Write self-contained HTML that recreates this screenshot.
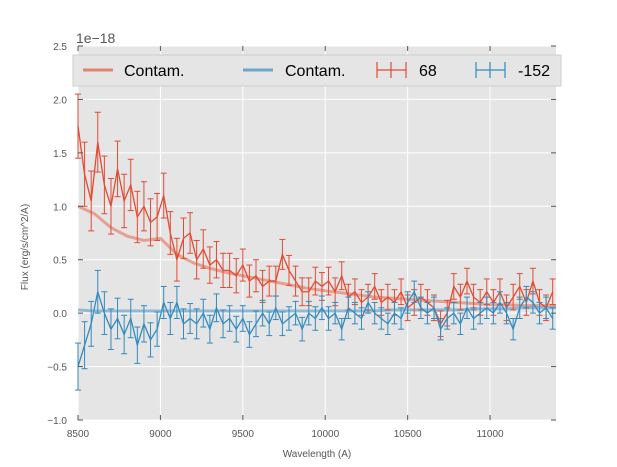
<!DOCTYPE html>
<html><head><meta charset="utf-8"><style>
body{margin:0;background:#fff;}
svg{display:block;font-family:"Liberation Sans",sans-serif;}
</style></head><body>
<svg width="617" height="467" id="chart">
<rect x="78" y="46" width="478" height="374" fill="#e5e5e5"/>
<g id="grid"></g>
<g id="series"></g>
<g id="axes"></g>
<text x="76" y="43" font-size="14" fill="#555">1e−18</text>
<text x="14" y="233" font-size="10" fill="#555" transform="rotate(-90 28 233)" text-anchor="middle">Flux (erg/s/cm^2/A)</text>
<text x="317" y="457" font-size="10" fill="#555" text-anchor="middle">Wavelength (A)</text>
<g>
<rect x="73" y="55" width="488" height="31" fill="#e5e5e5" stroke="#ccc" stroke-width="1" opacity="0.95"/>
<line x1="83" y1="70" x2="113" y2="70" stroke="#e5836d" stroke-width="3"/>
<text x="124" y="76" font-size="16" fill="#000">Contam.</text>
<line x1="243" y1="70" x2="273" y2="70" stroke="#6aa6d0" stroke-width="3"/>
<text x="285" y="76" font-size="16" fill="#000">Contam.</text>
<g stroke="#e24a33" stroke-width="1.2"><line x1="377" y1="70" x2="406" y2="70"/><line x1="377" y1="62" x2="377" y2="78"/><line x1="406" y1="62" x2="406" y2="78"/><line x1="391" y1="62" x2="391" y2="78"/></g>
<text x="419" y="76" font-size="16" fill="#000">68</text>
<g stroke="#348abd" stroke-width="1.2"><line x1="476" y1="70" x2="505" y2="70"/><line x1="476" y1="62" x2="476" y2="78"/><line x1="505" y1="62" x2="505" y2="78"/><line x1="490" y1="62" x2="490" y2="78"/></g>
<text x="518" y="76" font-size="16" fill="#000">-152</text>
</g>
</svg>
<script>
const wave0 = 8500, waveStep = 40;
const redFlux = [1.75,1.3,1.05,1.6,1.2,1.0,1.35,1.05,1.2,0.9,1.0,0.85,0.9,1.1,0.75,0.5,0.7,0.75,0.5,0.6,0.45,0.5,0.4,0.4,0.35,0.45,0.3,0.35,0.25,0.3,0.3,0.55,0.4,0.3,0.2,0.2,0.3,0.25,0.3,0.2,0.35,0.15,0.2,0.1,0.15,0.25,0.1,0.15,0.1,0.2,0.05,0.1,0.15,0.1,0.05,-0.1,0.0,0.25,0.15,0.3,0.15,0.1,0.2,0.1,0.2,0.05,0.15,0.25,0.1,0.3,0.1,0.05,0.2];
const redErr = [0.3,0.3,0.28,0.28,0.27,0.26,0.26,0.25,0.24,0.24,0.23,0.22,0.22,0.21,0.2,0.2,0.19,0.19,0.18,0.18,0.17,0.17,0.16,0.16,0.16,0.15,0.15,0.15,0.15,0.14,0.14,0.14,0.14,0.14,0.13,0.13,0.13,0.13,0.13,0.13,0.13,0.12,0.12,0.12,0.12,0.12,0.12,0.12,0.12,0.12,0.12,0.12,0.12,0.12,0.12,0.12,0.12,0.12,0.12,0.12,0.12,0.12,0.12,0.12,0.12,0.12,0.12,0.12,0.12,0.12,0.12,0.12,0.12];
const blueFlux = [-0.5,-0.3,-0.1,0.2,0.0,-0.15,-0.05,-0.2,-0.05,-0.3,-0.1,-0.25,-0.15,0.1,-0.05,0.1,-0.1,-0.05,-0.1,0.0,-0.15,0.05,-0.1,-0.05,-0.15,-0.05,-0.2,-0.1,0.0,-0.1,0.05,-0.1,-0.05,0.0,-0.15,0.0,-0.05,0.05,-0.05,0.0,-0.15,0.05,0.0,-0.05,0.1,0.0,-0.05,-0.1,0.0,-0.05,0.1,0.2,0.05,0.0,0.05,-0.15,-0.05,0.0,-0.1,0.05,-0.05,0.0,0.05,0.0,0.1,0.0,-0.15,0.05,0.15,0.1,0.0,0.05,-0.05];
const blueErr = [0.22,0.22,0.21,0.2,0.2,0.19,0.19,0.18,0.18,0.17,0.17,0.16,0.16,0.15,0.15,0.15,0.14,0.14,0.14,0.13,0.13,0.13,0.13,0.12,0.12,0.12,0.12,0.12,0.12,0.11,0.11,0.11,0.11,0.11,0.11,0.11,0.11,0.11,0.11,0.1,0.1,0.1,0.1,0.1,0.1,0.1,0.1,0.1,0.1,0.1,0.1,0.1,0.1,0.1,0.1,0.1,0.1,0.1,0.1,0.1,0.1,0.1,0.1,0.1,0.1,0.1,0.1,0.1,0.1,0.1,0.1,0.1,0.1];
const contamWave = [8500,8600,8700,8800,8900,9000,9100,9200,9300,9400,9500,9600,9700,9800,9900,10000,10100,10200,10300,10400,10500,10600,10700,10800,10900,11000,11100,11200,11300,11400];
const redContam = [1.0,0.93,0.8,0.72,0.68,0.7,0.55,0.47,0.42,0.38,0.35,0.32,0.29,0.26,0.23,0.21,0.19,0.17,0.15,0.14,0.13,0.12,0.11,0.1,0.09,0.08,0.08,0.07,0.07,0.07];
const blueContam = [0.03,0.02,0.02,0.02,0.02,0.02,0.02,0.02,0.02,0.02,0.02,0.02,0.02,0.02,0.02,0.02,0.02,0.02,0.02,0.03,0.03,0.03,0.03,0.03,0.04,0.04,0.04,0.05,0.05,0.05];
const xTicks = [8500,9000,9500,10000,10500,11000];
const yTicks = [-1.0,-0.5,0.0,0.5,1.0,1.5,2.0,2.5];

const NS='http://www.w3.org/2000/svg';
const X0=78,X1=556,Y0=420,Y1=46,XMIN=8500,XMAX=11400,YMIN=-1,YMAX=2.5;
const xs=v=>X0+(v-XMIN)/(XMAX-XMIN)*(X1-X0);
const ys=v=>Y0-(v-YMIN)/(YMAX-YMIN)*(Y0-Y1);
function mk(tag,attrs,parent){const e=document.createElementNS(NS,tag);for(const k in attrs)e.setAttribute(k,attrs[k]);parent.appendChild(e);return e;}
const grid=document.getElementById('grid'),ser=document.getElementById('series'),axes=document.getElementById('axes');
xTicks.forEach(t=>{
 const g=mk('line',{x1:xs(t),x2:xs(t),y1:Y1,y2:Y0,stroke:'#fff','stroke-width':1},grid);
 
 
 mk('line',{x1:xs(t),x2:xs(t),y1:Y0,y2:Y0-5,stroke:'#555'},axes);
 mk('line',{x1:xs(t),x2:xs(t),y1:Y1,y2:Y1+5,stroke:'#555'},axes);
 const tx=mk('text',{x:xs(t),y:Y0+17,'font-size':10,fill:'#555','text-anchor':'middle'},axes);
 tx.textContent=t;
 
 
});
yTicks.forEach(t=>{
 const g=mk('line',{x1:X0,x2:X1,y1:ys(t),y2:ys(t),stroke:'#fff','stroke-width':1},grid);
 
 
 mk('line',{x1:X0,x2:X0+5,y1:ys(t),y2:ys(t),stroke:'#555'},axes);
 mk('line',{x1:X1,x2:X1-5,y1:ys(t),y2:ys(t),stroke:'#555'},axes);
 const tx=mk('text',{x:X0-11,y:ys(t)+4,'font-size':10,fill:'#555','text-anchor':'end'},axes);
 tx.textContent=t.toFixed(1).replace('-','−');
 
 
});
function contam(vals,color,name){
 const p=mk('polyline',{points:vals.map((v,i)=>xs(contamWave[i])+','+ys(v)).join(' '),fill:'none',stroke:color,'stroke-width':3,opacity:0.7},ser);
 
 
}
function errs(vals,err,color,name){
 const g=mk('g',{stroke:color,'stroke-width':1,fill:'none'},ser);
 
 
 vals.forEach((v,i)=>{const x=xs(wave0+i*waveStep);
  mk('line',{x1:x,x2:x,y1:ys(v-err[i]),y2:ys(v+err[i])},g);
  mk('line',{x1:x-3,x2:x+3,y1:ys(v-err[i]),y2:ys(v-err[i])},g);
  mk('line',{x1:x-3,x2:x+3,y1:ys(v+err[i]),y2:ys(v+err[i])},g);});
 const p=mk('polyline',{points:vals.map((v,i)=>xs(wave0+i*waveStep)+','+ys(v)).join(' '),'stroke-width':1.3},g);
 
 
}
contam(redContam,'#e5836d','red-contam-line');
contam(blueContam,'#6aa6d0','blue-contam-line');
errs(redFlux,redErr,'#e24a33','series-68');
errs(blueFlux,blueErr,'#348abd','series-152');
</script>
</body></html>
